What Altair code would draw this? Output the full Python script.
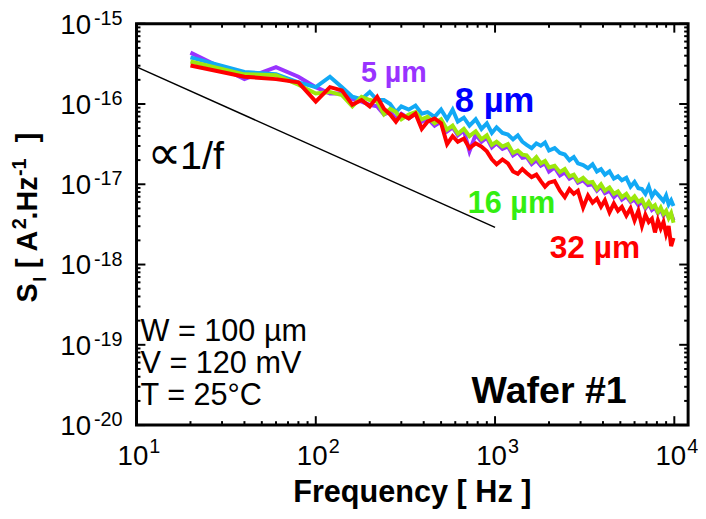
import altair as alt
import pandas as pd

FONT = "Liberation Sans"

# ---------------- data ----------------
FREQ = [20, 40, 60, 80, 100, 120, 140, 160, 180, 200, 220, 240, 260, 280, 300,
        330, 360, 390, 420, 460, 500, 540, 580, 620, 670, 720, 780, 840, 900, 960, 1020,
        1100, 1180, 1260, 1340, 1420, 1500, 1600, 1700, 1800, 1900, 2000,
        2150, 2300, 2450, 2600, 2750, 2900, 3100, 3300, 3500, 3700, 3900,
        4100, 4350, 4600, 4850, 5100, 5400, 5700, 6000, 6300, 6600, 6900, 7200, 7500,
        7800, 8100, 8400, 8700, 9000, 9300, 9600, 9900]

# log10 of S_I [A^2/Hz]
LOG_S_5UM = [-15.36, -15.69, -15.54, -15.66, -15.79, -15.87, -15.87, -15.94, -15.97, -16.01, -16.03, -16.13, -16.10, -16.18, -16.12,
             -16.18, -16.12, -16.22, -16.18, -16.27, -16.22, -16.34, -16.29, -16.39, -16.33, -16.59, -16.38, -16.47, -16.42, -16.54, -16.49,
             -16.56, -16.53, -16.64, -16.60, -16.67, -16.66, -16.75, -16.70, -16.77, -16.74, -16.84,
             -16.79, -16.89, -16.85, -16.93, -16.90, -16.98, -16.95, -17.01, -17.00, -17.08, -17.03,
             -17.11, -17.08, -17.16, -17.11, -17.19, -17.15, -17.22, -17.19, -17.26, -17.21, -17.30, -17.24, -17.32, -17.29, -17.36,
             -17.31, -17.39, -17.35, -17.41, -17.37, -17.45]
LOG_S_8UM = [-15.42, -15.60, -15.63, -15.73, -15.79, -15.66, -15.79, -15.91, -15.94, -15.85, -15.95, -15.95, -16.00, -16.10, -16.03,
             -16.07, -16.02, -16.12, -16.10, -16.16, -16.07, -16.19, -16.07, -16.22, -16.17, -16.27, -16.19, -16.31, -16.24, -16.36, -16.29,
             -16.36, -16.38, -16.44, -16.39, -16.47, -16.51, -16.55, -16.49, -16.52, -16.48, -16.58,
             -16.55, -16.61, -16.63, -16.70, -16.66, -16.74, -16.76, -16.80, -16.75, -16.84, -16.81,
             -16.88, -16.84, -16.93, -16.90, -16.95, -16.92, -17.03, -16.97, -17.05, -17.06, -17.12, -17.03, -17.15, -17.09, -17.13,
             -17.17, -17.21, -17.14, -17.25, -17.20, -17.27]
LOG_S_16UM = [-15.47, -15.63, -15.64, -15.76, -15.87, -15.85, -15.89, -16.03, -15.91, -15.95, -15.97, -16.13, -16.06, -16.10, -16.19,
              -16.13, -16.10, -16.19, -16.16, -16.24, -16.19, -16.32, -16.27, -16.37, -16.31, -16.40, -16.34, -16.44, -16.39, -16.51, -16.47,
              -16.53, -16.50, -16.61, -16.58, -16.63, -16.64, -16.72, -16.66, -16.74, -16.71, -16.79,
              -16.77, -16.85, -16.81, -16.90, -16.88, -16.96, -16.92, -16.98, -16.97, -17.06, -17.00,
              -17.08, -17.04, -17.12, -17.09, -17.16, -17.12, -17.20, -17.15, -17.22, -17.19, -17.28, -17.22, -17.29, -17.26, -17.35,
              -17.29, -17.37, -17.33, -17.42, -17.36, -17.48]
LOG_S_32UM = [-15.52, -15.66, -15.69, -15.73, -15.97, -15.79, -15.83, -16.01, -15.95, -16.03, -15.91, -16.06, -16.13, -16.22, -16.13,
              -16.18, -16.12, -16.31, -16.22, -16.18, -16.24, -16.50, -16.40, -16.47, -16.43, -16.55, -16.49, -16.53, -16.59, -16.69, -16.75,
              -16.69, -16.74, -16.84, -16.87, -16.81, -16.86, -16.91, -16.88, -16.96, -17.03, -16.98,
              -16.96, -17.08, -17.16, -17.06, -17.12, -17.08, -17.29, -17.14, -17.23, -17.18, -17.28,
              -17.20, -17.35, -17.24, -17.33, -17.28, -17.39, -17.30, -17.45, -17.33, -17.52, -17.38, -17.47, -17.43, -17.60, -17.45,
              -17.55, -17.47, -17.62, -17.52, -17.77, -17.67]

SERIES_COLORS = ["#9933FF", "#12A9F5", "#9CE80C", "#FF0000"]

REF_F = [10, 1000]          # 1/f guide line
REF_S = [2.9e-16, 2.9e-18]

X_MAJOR = [10, 100, 1000, 10000]
X_EXP = ["1", "2", "3", "4"]
Y_MAJOR = [1e-20, 1e-19, 1e-18, 1e-17, 1e-16, 1e-15]
Y_EXP = ["-20", "-19", "-18", "-17", "-16", "-15"]
X_MINOR = [k * d for d in (10, 100, 1000) for k in range(2, 10)]
Y_MINOR = [k * 10.0 ** e for e in range(-20, -15) for k in range(2, 10)]

# ---------------- layout ----------------
W, H = 558, 406
xscale = alt.Scale(type="log", domain=[10, 11940], nice=False)
yscale = alt.Scale(type="log", domain=[1e-20, 1e-15], nice=False)
X = alt.X("f:Q", scale=xscale, axis=None)
Y = alt.Y("S:Q", scale=yscale, axis=None)

layers = []

# ticks (inward)
def xticks(vals, length):
    df = pd.DataFrame({"f": vals})
    b = alt.Chart(df).mark_rule(color="black", strokeWidth=2).encode(
        x=X, y=alt.value(H), y2=alt.value(H - length))
    t = alt.Chart(df).mark_rule(color="black", strokeWidth=2).encode(
        x=X, y=alt.value(0), y2=alt.value(length))
    return [b, t]

def yticks(vals, length):
    df = pd.DataFrame({"S": vals})
    l = alt.Chart(df).mark_rule(color="black", strokeWidth=2).encode(
        y=Y, x=alt.value(0), x2=alt.value(length))
    r = alt.Chart(df).mark_rule(color="black", strokeWidth=2).encode(
        y=Y, x=alt.value(W), x2=alt.value(W - length))
    return [l, r]

layers += xticks(X_MAJOR, 9) + xticks(X_MINOR, 4) + yticks(Y_MAJOR, 9) + yticks(Y_MINOR, 4)

# 1/f line
layers.append(alt.Chart(pd.DataFrame({"f": REF_F, "S": REF_S})).mark_line(
    color="black", strokeWidth=1.5).encode(x=X, y=Y))

# spectra
for logs, col in zip([LOG_S_5UM, LOG_S_8UM, LOG_S_16UM, LOG_S_32UM], SERIES_COLORS):
    df = pd.DataFrame({"f": FREQ, "S": [10.0 ** v for v in logs]})
    layers.append(alt.Chart(df).mark_line(color=col, strokeWidth=4, strokeJoin="miter", clip=True)
                  .encode(x=X, y=Y))

# tick labels
xl = pd.DataFrame({"f": X_MAJOR, "b": ["10"] * 4, "e": X_EXP})
layers.append(alt.Chart(xl).mark_text(align="right", baseline="alphabetic", fontSize=28, font=FONT, dx=12)
              .encode(x=X, y=alt.value(446), text="b:N"))
layers.append(alt.Chart(xl).mark_text(align="left", baseline="alphabetic", fontSize=20, font=FONT, dx=13)
              .encode(x=X, y=alt.value(434), text="e:N"))
yl = pd.DataFrame({"S": Y_MAJOR, "b": ["10"] * 6, "e": Y_EXP})
layers.append(alt.Chart(yl).mark_text(align="right", baseline="alphabetic", fontSize=28, font=FONT, dy=10)
              .encode(y=Y, x=alt.value(-46), text="b:N"))
layers.append(alt.Chart(yl).mark_text(align="left", baseline="alphabetic", fontSize=20, font=FONT, dy=1)
              .encode(y=Y, x=alt.value(-43), text="e:N"))

def label(txt, x, y, size, color="black", bold=False, angle=0, align="left", font=FONT):
    kw = dict(align=align, baseline="alphabetic", fontSize=size, font=font, color=color,
              fontWeight="bold" if bold else "normal")
    if angle:
        kw["angle"] = angle
    return alt.Chart(alt.Data(values=[{"t": txt}])).mark_text(**kw).encode(
        x=alt.value(x), y=alt.value(y), text="t:N")

layers += [
    label("5 µm", 227, 59, 29, "#9933FF", True),
    label("8 µm", 322, 89, 35, "#0000FF", True),
    label("16 µm", 335, 191, 31, "#33EE11", True),
    label("32 µm", 418, 237, 32, "#FF0000", True),
    label("\u221d", 11, 147, 48, font="DejaVu Sans"),
    label("1/f", 44, 147, 40),
    label("W = 100 µm", 4, 321, 31),
    label("V = 120 mV", 4, 353, 31),
    label("T = 25°C", 4, 386, 31),
    label("Wafer #1", 339, 384, 38, bold=True),
    label("Frequency [ Hz ]", 279, 484, 31, bold=True, align="center"),
    # y title pieces (rotated)
    label("S", -101, 282, 29, bold=True, angle=270),
    label("I", -92, 261, 18, bold=True, angle=270),
    label("[ A", -101, 247, 29, bold=True, angle=270),
    label("2", -112, 208, 20, bold=True, angle=270),
    label(".Hz", -101, 198, 29, bold=True, angle=270),
    label("-1", -112, 154, 20, bold=True, angle=270),
    label("]", -101, 120, 29, bold=True, angle=270),
]

chart = alt.layer(*layers).properties(
    width=W, height=H,
    padding={"left": 130, "top": 13, "right": 10, "bottom": 84},
    autosize=alt.AutoSizeParams(type="none"),
    background="white",
).configure_view(stroke="black", strokeWidth=3)

chart.save("out.html", embed_options={"renderer": "svg", "actions": False})
